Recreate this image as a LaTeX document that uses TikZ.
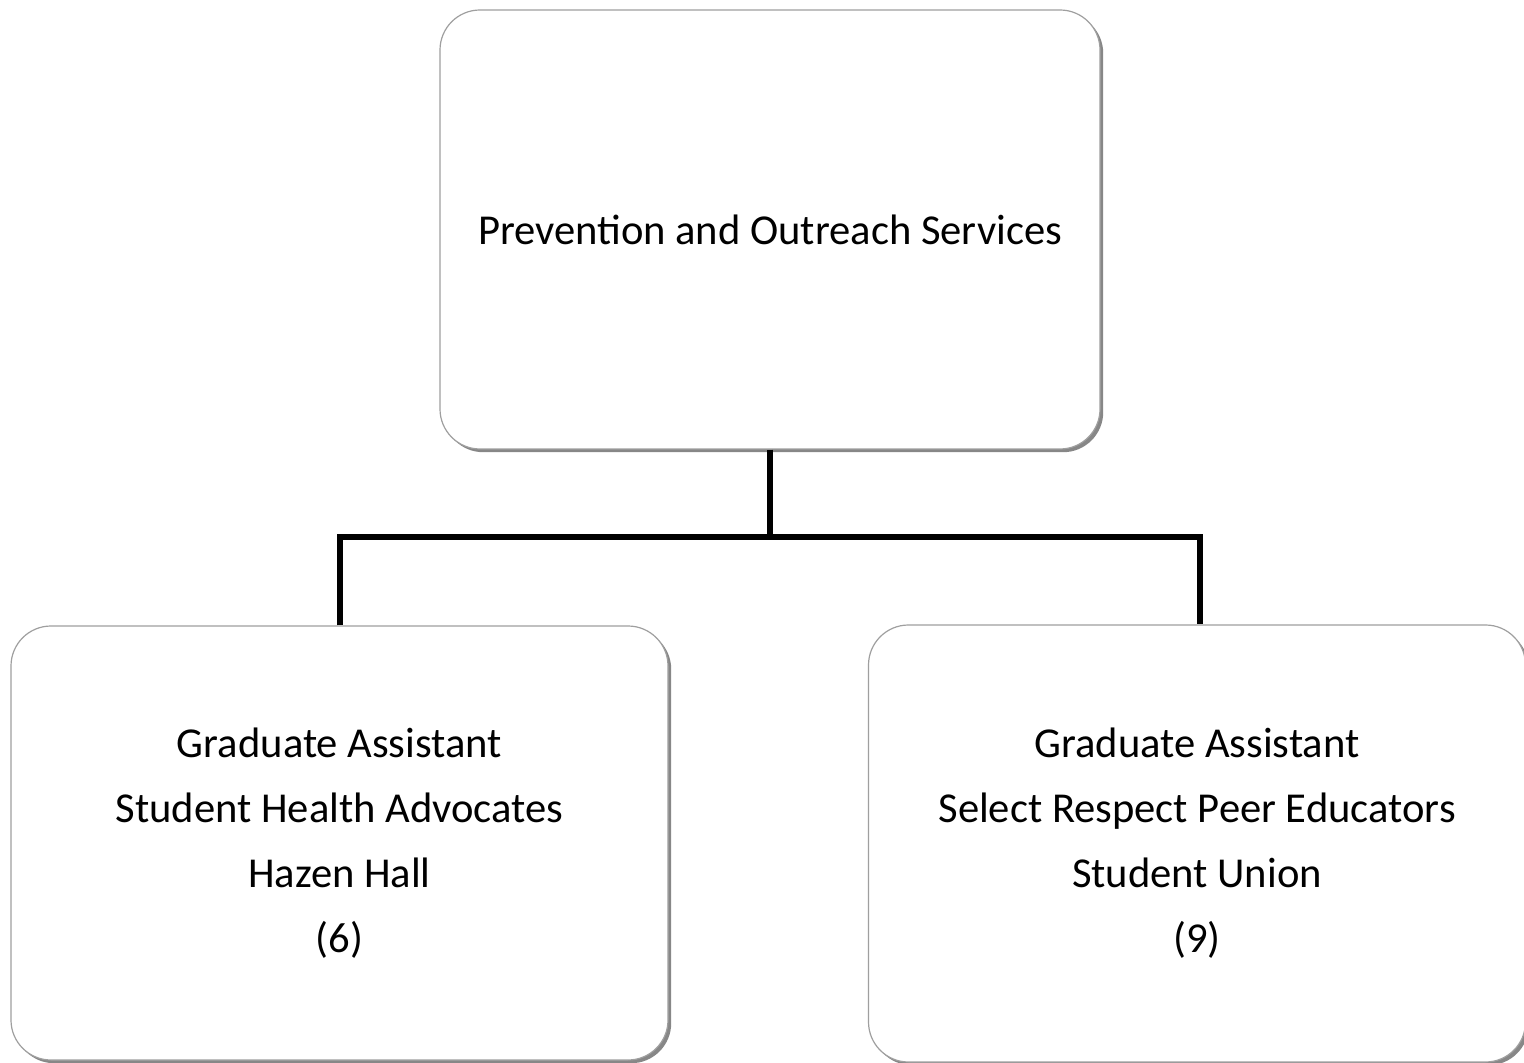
\documentclass[tikz,border=0pt]{standalone}
\usepackage{fontspec}
\setmainfont{Carlito}
\usetikzlibrary{shadows}
\begin{document}
\begin{tikzpicture}[x=0.5pt,y=-0.5pt,
  orgbox/.style={draw=gray!75, line width=0.6pt, fill=white, rounded corners=20pt,
    align=center, inner sep=0pt,
    font=\fontsize{21.3}{32.5}\selectfont,
    drop shadow={shadow xshift=1.6pt, shadow yshift=-1.6pt, fill=black!55, opacity=0.85}},
  link/.style={line width=2.7pt, black}]
\useasboundingbox (0,0) rectangle (1524,1063);
\fill[white] (0,0) rectangle (1524,1063);
\node[orgbox, minimum width=330pt, minimum height=219.5pt] (top) at (770,229.5)
  {Prevention and Outreach Services};
\node[orgbox, minimum width=328.5pt, minimum height=217pt] (left) at (339.5,843)
  {Graduate Assistant\\Student Health Advocates\\Hazen Hall\\(6)};
\node[orgbox, minimum width=328.5pt, minimum height=218.5pt] (right) at (1197,843.5)
  {Graduate Assistant\\Select Respect Peer Educators\\Student Union\\(9)};
\coordinate (mid) at (770,537);
\draw[link] (top.south) -- (mid);
\draw[link] (left.north -| 340,0) |- (mid) -| (right.north -| 1200,0);
\end{tikzpicture}
\end{document}
